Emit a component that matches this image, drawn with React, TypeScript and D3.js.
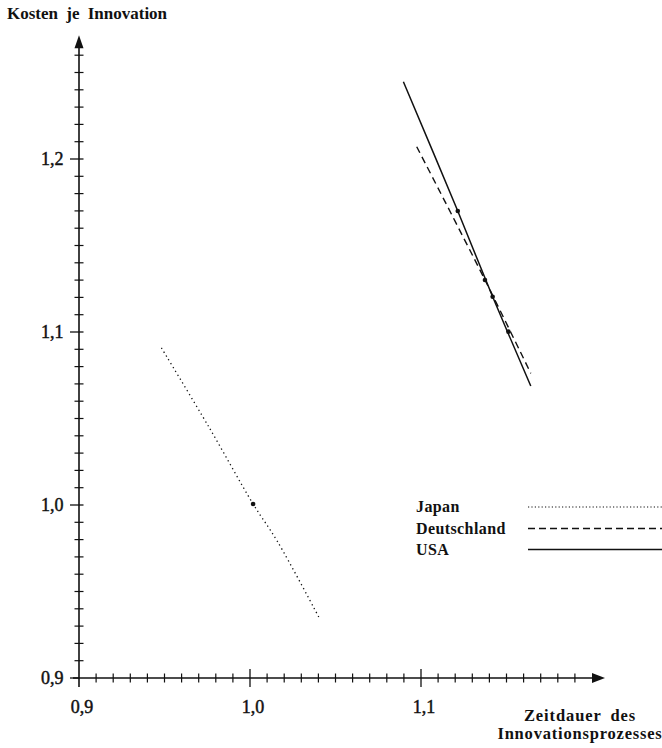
import React from 'react';
import * as d3 from 'd3';

const xMajorTicks = [0.9, 1.0, 1.1];
const xTickLabels = ['0,9', '1,0', '1,1'];
const yMajorTicks = [0.9, 1.0, 1.1, 1.2];
const yTickLabels = ['0,9', '1,0', '1,1', '1,2'];

const seriesNames = ['Japan', 'Deutschland', 'USA'];
const japanX = [0.9482, 0.9760, 1.0018, 1.0160, 1.0404];
const japanY = [1.0908, 1.0450, 1.0006, 0.9790, 0.9349];
const deutschlandX = [1.0975, 1.1374, 1.1642];
const deutschlandY = [1.2071, 1.1301, 1.0761];
const usaX = [1.0897, 1.1215, 1.1419, 1.1642];
const usaY = [1.2447, 1.1699, 1.1204, 1.0688];

const markerX = [1.0018, 1.1215, 1.1419, 1.1374, 1.1511];
const markerY = [1.0006, 1.1699, 1.1204, 1.1301, 1.1002];

const yAxisTitle = 'Kosten je Innovation';
const xAxisTitle = ['Zeitdauer des', 'Innovationsprozesses'];

const FONT = '"Liberation Serif", "Times New Roman", serif';

export default function App() {
  const x = d3.scaleLinear().domain([0.9, 1.2]).range([79, 592]);
  const y = d3.scaleLinear().domain([0.9, 1.2]).range([678, 159]);

  const x0 = x(0.9);
  const y0 = y(0.9);
  const xMinor = d3.range(0, 30).map((i) => 0.9 + i * 0.01).filter((v) => !xMajorTicks.some((m) => Math.abs(m - v) < 1e-6));
  const yMinor = d3.range(0, 37).map((i) => 0.9 + i * 0.01).filter((v) => !yMajorTicks.some((m) => Math.abs(m - v) < 1e-6));
  const xEnd = x(1.2076);
  const yEnd = y(1.2715);

  const line = d3
    .line<[number, number]>()
    .x((d) => x(d[0]))
    .y((d) => y(d[1]))
    .curve(d3.curveCatmullRom.alpha(0.5));

  const series = [
    { name: seriesNames[0], xs: japanX, ys: japanY, dash: '1.3,3.2', width: 1.3 },
    { name: seriesNames[1], xs: deutschlandX, ys: deutschlandY, dash: '7,4.5', width: 1.4 },
    { name: seriesNames[2], xs: usaX, ys: usaY, dash: null, width: 1.5 },
  ];

  const legendDash = ['1.2,2.2', '7,4', null];
  const legendY = [507, 528.5, 549.5];

  const textStyle = { fontFamily: FONT, fill: '#111' };
  const numStyle = { fontFamily: FONT, fill: '#111', stroke: '#111', strokeWidth: 0.45 };

  return (
    <svg width={662} height={748} style={{ position: 'absolute', left: 0, top: 0, background: '#fff' }}>
      <rect x={0} y={0} width={662} height={748} fill="#fff" />
      {/* title */}
      <text x={7} y={19} fontSize={17} fontWeight="bold" wordSpacing={4} style={textStyle}>
        {yAxisTitle}
      </text>

      {/* y axis */}
      <line x1={x0} x2={x0} y1={y0 + 9} y2={yEnd + 12} stroke="#111" strokeWidth={1.6} />
      <path d={`M${x0},${yEnd} L${x0 - 4.5},${yEnd + 13} L${x0 + 4.5},${yEnd + 13} Z`} fill="#111" />
      {yMinor.map((v) => (
        <line key={'ym' + v} x1={x0 - 4.5} x2={x0 + 4.5} y1={y(v)} y2={y(v)} stroke="#111" strokeWidth={1.2} />
      ))}
      {yMajorTicks.map((v, i) => (
        <g key={'yM' + v}>
          <line x1={x0 - 9} x2={v === 0.9 ? x0 : x0 + 4.5} y1={y(v)} y2={y(v)} stroke="#111" strokeWidth={1.3} />
          <text x={63.5} y={y(v)} dy="0.35em" textAnchor="end" fontSize={18} style={numStyle}>
            {yTickLabels[i]}
          </text>
        </g>
      ))}

      {/* x axis */}
      <line x1={x0 - 6} x2={xEnd - 12} y1={y0} y2={y0} stroke="#111" strokeWidth={1.6} />
      <path d={`M${xEnd},${y0} L${xEnd - 13},${y0 - 5} L${xEnd - 13},${y0 + 5} Z`} fill="#111" />
      {xMinor.map((v) => (
        <line key={'xm' + v} x1={x(v)} x2={x(v)} y1={y0 - 4.5} y2={y0 + 4.5} stroke="#111" strokeWidth={1.2} />
      ))}
      {xMajorTicks.map((v, i) => (
        <g key={'xM' + v}>
          {v !== 0.9 && (
            <line x1={x(v)} x2={x(v)} y1={y0 - 9} y2={y0 + 9} stroke="#111" strokeWidth={1.3} />
          )}
          <text x={x(v) + 3} y={713} textAnchor="middle" fontSize={18} style={numStyle}>
            {xTickLabels[i]}
          </text>
        </g>
      ))}
      <text x={580} y={721} textAnchor="middle" fontSize={16.5} fontWeight="bold" letterSpacing={0.9} wordSpacing={4} style={textStyle}>
        {xAxisTitle[0]}
      </text>
      <text x={580} y={739} textAnchor="middle" fontSize={16.5} fontWeight="bold" letterSpacing={0.8} style={textStyle}>
        {xAxisTitle[1]}
      </text>

      {/* series */}
      {series.map((s) => (
        <path
          key={s.name}
          d={line(s.xs.map((v, i) => [v, s.ys[i]] as [number, number])) || ''}
          fill="none"
          stroke="#111"
          strokeWidth={s.width}
          strokeDasharray={s.dash || undefined}
        />
      ))}
      {markerX.map((v, i) => (
        <circle key={'mk' + i} cx={x(v)} cy={y(markerY[i])} r={2.3} fill="#111" />
      ))}

      {/* legend */}
      {seriesNames.map((n, i) => (
        <g key={'lg' + n}>
          <text x={416} y={legendY[i] + 5} fontSize={16} fontWeight="bold" letterSpacing={0.4} style={textStyle}>
            {n}
          </text>
          <line
            x1={528}
            x2={662}
            y1={legendY[i]}
            y2={legendY[i]}
            stroke="#111"
            strokeWidth={i === 0 ? 1.1 : 1.4}
            strokeDasharray={legendDash[i] || undefined}
          />
        </g>
      ))}
    </svg>
  );
}
